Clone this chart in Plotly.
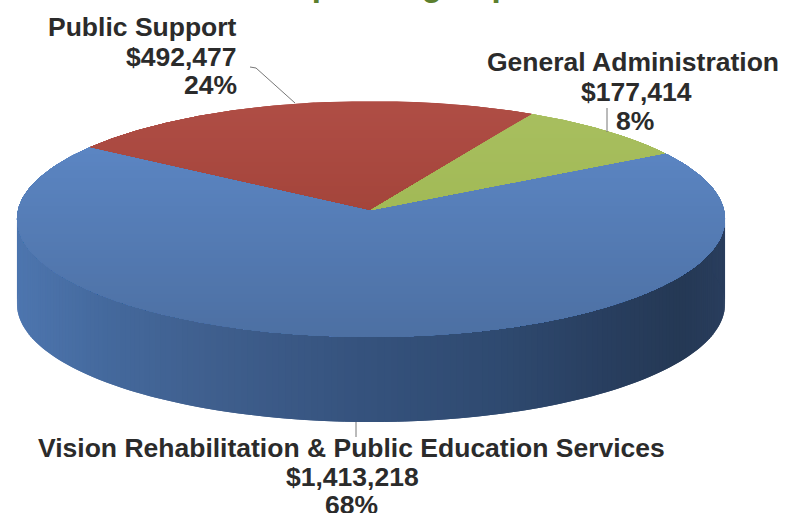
import numpy as np
import plotly.graph_objects as go

categories = ["Vision Rehabilitation & Public Education Services", "Public Support", "General Administration"]
values = [1413218, 492477, 177414]
percents = ["68%", "24%", "8%"]
amounts = ["$1,413,218", "$492,477", "$177,414"]
title_text = "Operating Expenses"

W, H = 801, 513
CX, APEX_Y = 371, 210
A, B, K = 353.0, 117.3, 0.0763   # perspective disc
DEPTH = 85
START = 214.0                    # degrees, where the Public Support slice begins

# colour of each slice at the far (top) and near (bottom) side of the disc
GRAD = {
    0: ((0x5f, 0x8b, 0xcb), (0x4d, 0x70, 0xa3)),
    1: ((0xb0, 0x4e, 0x46), (0x97, 0x3b, 0x2f)),
    2: ((0xa9, 0xc0, 0x60), (0x9a, 0xb3, 0x4c)),
}
WALL_X = [17, 100, 200, 355, 500, 600, 680, 725]
WALL_C = [(0x4e,0x76,0xaf), (0x45,0x6a,0x9e), (0x40,0x60,0x8f), (0x36,0x53,0x7e),
          (0x2f,0x4a,0x70), (0x29,0x3f,0x60), (0x25,0x39,0x55), (0x2a,0x3e,0x5e)]


def disc(a):
    r = np.radians(a)
    u, v = np.cos(r), np.sin(r)
    w = 1 - K*v
    return CX + A*u/w, APEX_Y + B*v/w


def py(v):
    return H - np.asarray(v, dtype=float)


def clip_band(pts, y0, y1):
    """Clip a polygon to the horizontal band y0..y1."""
    def clip(poly, inside, cross):
        out = []
        for i in range(len(poly)):
            p, q = poly[i], poly[(i+1) % len(poly)]
            if inside(p):
                out.append(p)
            if inside(p) != inside(q):
                out.append(cross(p, q))
        return out
    def at(yc):
        return lambda p, q: (p[0] + (q[0]-p[0])*(yc-p[1])/(q[1]-p[1]), yc)
    res = clip(pts, lambda p: p[1] >= y0, at(y0))
    if res:
        res = clip(res, lambda p: p[1] <= y1, at(y1))
    return res


fig = go.Figure()
total = sum(values)
order = [1, 2, 0]
angles = {}
cur = START
for i in order:
    angles[i] = (cur, cur + values[i]/total*360)
    cur += values[i]/total*360

# side wall: painter's overlap, left to right, so no seams show
sa = np.arange(190, -10, -1.0)
for a in sa:
    arc = np.linspace(a-2.0, a, 4)
    x, y = disc(arc)
    xm = x[-1]
    col = "rgb(%d,%d,%d)" % tuple(int(np.interp(xm, WALL_X, [c[j] for c in WALL_C])) for j in range(3))
    xs = list(x) + list(x[::-1])
    ys = list(y) + list((y+DEPTH)[::-1])
    fig.add_trace(go.Scatter(x=xs, y=list(py(ys)), mode="lines", fill="toself", fillcolor=col,
                             line=dict(color=col, width=0), hoverinfo="skip", showlegend=False))

# top slices, banded for a vertical gradient; blue first so red/green sit above it
bands = np.arange(98, 340, 4.0)
for i in [0, 1, 2]:
    arc = np.linspace(angles[i][0], angles[i][1], 240)
    x, y = disc(arc)
    poly = [(CX, APEX_Y)] + list(zip(x, y))
    c_far, c_near = GRAD[i]
    for b0 in bands:
        piece = clip_band(poly, b0, 345.0)   # each band paints everything below it, the next overpaints
        if len(piece) < 3:
            continue
        t = (b0+2-101)/(337-101)
        col = "rgb(%d,%d,%d)" % tuple(int(c_far[j] + (c_near[j]-c_far[j])*np.clip(t, 0, 1)) for j in range(3))
        px = [p[0] for p in piece] + [piece[0][0]]
        pyy = [p[1] for p in piece] + [piece[0][1]]
        fig.add_trace(go.Scatter(x=px, y=list(py(pyy)), mode="lines", fill="toself", fillcolor=col,
                                 line=dict(color=col, width=0), name=categories[i],
                                 hoverinfo="name", showlegend=False))


def note(text, x, y, anchor="center", size=26.5, color="#2b2b2b"):
    fig.add_annotation(x=x, y=H-y, xref="x", yref="y", text="<b>%s</b>" % text, showarrow=False,
                       xanchor=anchor, yanchor="middle", align=anchor,
                       font=dict(family="Liberation Sans", size=size, color=color))


note(categories[1], 239, 27, "right")
note(amounts[1], 239, 57, "right")
note(percents[1], 239, 85, "right")
note(categories[2], 781, 62, "right")
note(amounts[2], 636, 92)
note(percents[2], 635, 121)
note(categories[0], 351, 448)
note(amounts[0], 352, 477)
note(percents[0], 351, 505)

# title: only its descenders fall inside the picture, as in the reference
fig.add_annotation(x=445/W, y=1+16/H, xref="paper", yref="paper", text="<b>%s</b>" % title_text,
                   showarrow=False, xanchor="center", yanchor="middle",
                   font=dict(family="Liberation Sans", size=33, color="#5c7f2e"))

# leader lines
for xs, ys in [([250, 256, 295], [67, 68, 103]), ([607, 607], [108, 132]), ([356, 356], [422, 437])]:
    fig.add_trace(go.Scatter(x=xs, y=list(py(ys)), mode="lines", line=dict(color="#777777", width=1),
                             hoverinfo="skip", showlegend=False))

fig.update_xaxes(range=[0, W], visible=False, fixedrange=True)
fig.update_yaxes(range=[0, H], visible=False, fixedrange=True)
fig.update_layout(width=W, height=H, margin=dict(l=0, r=0, t=0, b=0), paper_bgcolor="white",
                  plot_bgcolor="white", showlegend=False)
fig.write_html("out.html", config={"displayModeBar": False},
               post_script="document.body.style.margin='0';document.documentElement.style.overflow='hidden';")
